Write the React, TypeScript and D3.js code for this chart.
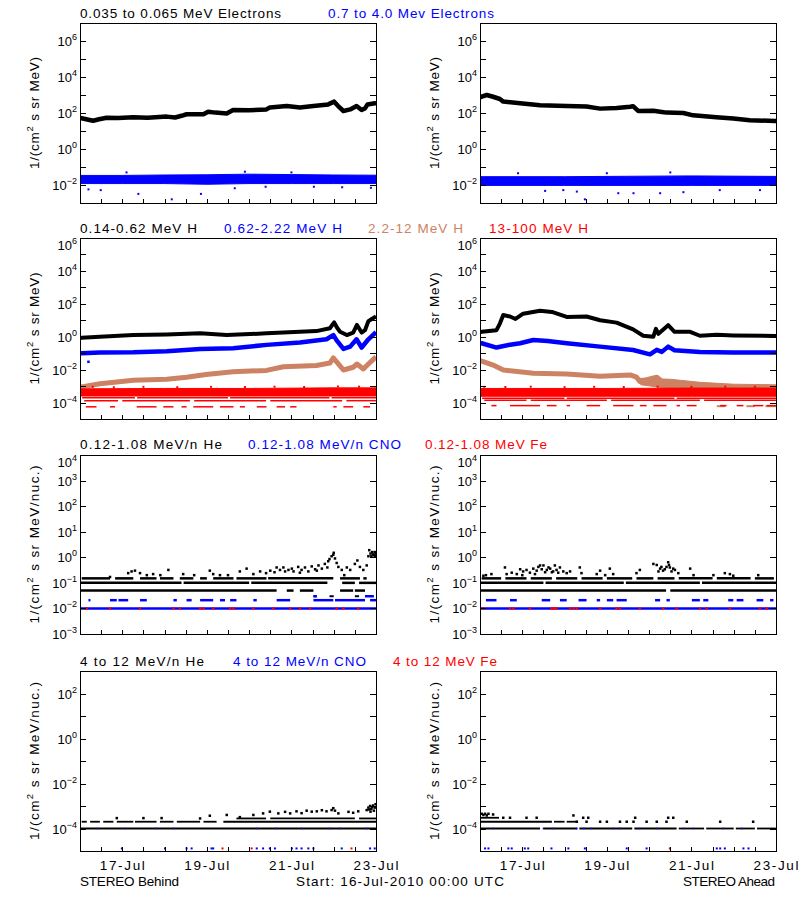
import React from 'react';
import * as d3 from 'd3';

type Pt = [number, number];
type BandPt = [number, number, number];
type Row = [number, [number, number][]];

// ---------- axes ----------
const DAY_EXTENT: [number, number] = [0, 7];
const DATE_TICK_DAYS = [1, 3, 5, 7];
const DATE_TICK_LABELS = ['17-Jul', '19-Jul', '21-Jul', '23-Jul'];
const HALF_DAY_TICKS = [0.5, 1, 1.5, 2, 2.5, 3, 3.5, 4, 4.5, 5, 5.5, 6, 6.5, 7];
const ROW_DOMAINS: [number, number][] = [[1e-3, 1e7], [1e-5, 1e6], [1e-3, 1e4], [1e-5, 1e3]];
const ROW_LABEL_EXPS = [[-2, 0, 2, 4, 6], [-4, -2, 0, 2, 4, 6], [-3, -2, -1, 0, 1, 2, 3, 4], [-4, -2, 0, 2]];
const ROW_TITLES = [
  ['0.035 to 0.065 MeV Electrons', '0.7 to 4.0 Mev Electrons'],
  ['0.14-0.62 MeV H', '0.62-2.22 MeV H', '2.2-12 MeV H', '13-100 MeV H'],
  ['0.12-1.08 MeV/n He', '0.12-1.08 MeV/n CNO', '0.12-1.08 MeV Fe'],
  ['4 to 12 MeV/n He', '4 to 12 MeV/n CNO', '4 to 12 MeV Fe'],
];
const Y_UNITS = ['MeV)', 'MeV)', 'MeV/nuc.)', 'MeV/nuc.)'];
const FOOTER_LEFT = 'STEREO Behind';
const FOOTER_MID = 'Start: 16-Jul-2010 00:00 UTC';
const FOOTER_RIGHT = 'STEREO Ahead';

// ---------- row 1: electrons ----------
const eLowBehind: Pt[] = [[0, 55], [0.04, 51], [0.2, 42], [0.31, 37], [0.45, 45], [0.63, 55], [0.9, 52], [1.26, 58], [1.6, 55], [2.05, 63], [2.25, 56], [2.4, 70], [2.52, 85], [2.92, 85], [3.03, 117], [3.2, 105], [3.47, 95], [3.62, 148], [4.0, 140], [4.41, 158], [4.49, 204], [4.89, 245], [5.2, 204], [5.52, 245], [5.87, 300], [6.01, 427], [6.1, 250], [6.23, 129], [6.39, 158], [6.54, 245], [6.66, 148], [6.74, 180], [6.8, 300], [6.97, 347], [7, 350]];
const eHighBehindBand: BandPt[] = [[0, 0.012, 0.034], [1, 0.012, 0.034], [2, 0.012, 0.036], [3, 0.011, 0.037], [4, 0.012, 0.04], [5, 0.012, 0.038], [6, 0.012, 0.036], [7, 0.012, 0.035]];
const eHighBehindOut: Pt[] = [[0.2, 0.0057], [0.49, 0.0052], [1.38, 0.0032], [2.17, 0.0016], [2.86, 0.0032], [3.66, 0.0066], [4.39, 0.008], [5.53, 0.008], [6.2, 0.0075], [6.88, 0.007], [1.1, 0.05], [3.9, 0.055], [5.0, 0.05]];
const eLowAhead: Pt[] = [[0, 750], [0.04, 800], [0.16, 1000], [0.31, 800], [0.47, 600], [0.55, 430], [0.95, 350], [1.42, 270], [2.05, 245], [2.52, 230], [2.84, 175], [3.23, 190], [3.55, 225], [3.62, 240], [3.74, 130], [4.1, 135], [4.3, 115], [4.41, 105], [4.81, 100], [5.04, 74], [5.59, 58], [5.99, 50], [6.38, 40], [6.97, 36], [7, 36]];
const eHighAheadBand: BandPt[] = [[0, 0.0095, 0.029], [2, 0.0095, 0.029], [4, 0.0095, 0.031], [5, 0.0095, 0.032], [7, 0.0095, 0.03]];
const eHighAheadOut: Pt[] = [[1.54, 0.0047], [1.97, 0.0052], [2.29, 0.0043], [2.48, 0.0016], [3.27, 0.0035], [3.63, 0.0035], [4.26, 0.0035], [4.81, 0.004], [5.67, 0.0052], [6.62, 0.0052], [0.9, 0.045], [3.0, 0.045], [4.5, 0.05]];

// ---------- row 2: protons ----------
const hLowBehind: Pt[] = [[0, 0.85], [0.04, 0.87], [0.47, 1.0], [1.26, 1.26], [2.05, 1.35], [2.84, 1.6], [3.47, 1.26], [4.41, 1.6], [4.81, 1.8], [5.59, 2.2], [5.91, 3.3], [6.01, 7.4], [6.08, 3.5], [6.15, 2.0], [6.31, 1.26], [6.46, 1.8], [6.55, 5.2], [6.66, 1.8], [6.74, 2.5], [6.82, 8.9], [6.9, 12], [7, 17]];
const hMidBehind: Pt[] = [[0, 0.098], [0.04, 0.098], [0.47, 0.11], [1.26, 0.112], [2.05, 0.13], [2.84, 0.18], [3.62, 0.2], [4.41, 0.32], [5.2, 0.45], [5.83, 0.7], [5.99, 1.26], [6.07, 0.6], [6.23, 0.18], [6.39, 0.25], [6.54, 0.7], [6.66, 0.22], [6.82, 0.7], [7, 1.9]];
const hMidBehindOut: Pt[] = [[0.2, 0.03]];
const hHighBehind: Pt[] = [[0, 0.0009], [0.04, 0.0009], [0.47, 0.0014], [0.87, 0.0018], [1.26, 0.0023], [2.05, 0.0026], [2.52, 0.0034], [2.98, 0.005], [3.62, 0.0074], [4.41, 0.009], [4.81, 0.015], [5.59, 0.018], [5.91, 0.025], [5.99, 0.052], [6.07, 0.03], [6.23, 0.0095], [6.46, 0.014], [6.55, 0.022], [6.7, 0.011], [6.82, 0.022], [7, 0.06]];
const hTopBehindBand: BandPt[] = [[0, 0.00025, 0.00068], [2, 0.00025, 0.00072], [4, 0.00025, 0.00072], [6, 0.00025, 0.00078], [7, 0.00025, 0.00078]];
const hTopBehindRows: Row[] = [
  [0.000195, [[0.05, 1.3], [1.35, 3.5], [3.55, 5.9], [5.95, 7]]],
  [0.00013, [[0.1, 0.9], [1.0, 2.6], [2.7, 4.4], [4.5, 6.2], [6.3, 7]]],
  [0.000055, [[0.14, 0.39], [0.71, 0.83], [1.34, 1.81], [1.97, 2.21], [2.4, 2.52], [2.68, 3.15], [3.31, 3.63], [3.78, 3.9], [4.18, 4.41], [4.65, 4.85], [4.97, 5.12], [5.99, 6.07], [6.23, 6.46], [6.7, 6.86]]],
];
const hTopBehindPts: Pt[] = [[0.3, 0.0009], [0.8, 0.00085], [1.5, 0.0009], [2.3, 0.00085], [3.1, 0.0009], [3.9, 0.00088], [4.6, 0.00092], [5.3, 0.00088], [6.1, 0.00095], [6.6, 0.00092]];
const hLowAhead: Pt[] = [[0, 1.8], [0.04, 2.0], [0.39, 2.5], [0.47, 6.3], [0.55, 21], [0.71, 17], [0.84, 12], [1.02, 25], [1.42, 38], [1.7, 32], [2.05, 16], [2.52, 17], [2.84, 10], [3.23, 7.2], [3.62, 2.8], [3.86, 1.15], [4.1, 1.0], [4.16, 3], [4.22, 1.5], [4.45, 5], [4.6, 2], [4.97, 2], [5.2, 1.15], [5.6, 1.3], [5.99, 1.2], [7, 1.1]];
const hMidAhead: Pt[] = [[0, 0.4], [0.04, 0.4], [0.39, 0.22], [0.71, 0.33], [0.95, 0.4], [1.26, 0.63], [1.6, 0.55], [2.05, 0.4], [2.84, 0.25], [3.62, 0.155], [4.02, 0.085], [4.18, 0.16], [4.3, 0.12], [4.45, 0.25], [4.6, 0.15], [5.2, 0.117], [5.99, 0.11], [7, 0.11]];
const hHighAhead: Pt[] = [[0, 0.033], [0.04, 0.033], [0.31, 0.019], [0.55, 0.0095], [1.26, 0.006], [2.05, 0.0055], [2.84, 0.004], [3.55, 0.0048], [3.7, 0.0035], [3.78, 0.0019], [4.18, 0.0035], [4.3, 0.0019], [5.2, 0.0011], [5.99, 0.0007], [7, 0.0006]];
const hHighAheadBand: BandPt[] = [[3.8, 0.0012, 0.003], [4.5, 0.0007, 0.0026], [5.2, 0.0005, 0.0017], [6, 0.0004, 0.0013], [7, 0.0003, 0.0012]];
const hHighAheadRows: Row[] = [[0.00006, [[5.6, 5.8], [6.3, 6.5], [6.75, 7]]]];
const hTopAheadBand: BandPt[] = [[0, 0.00024, 0.00072], [3, 0.00024, 0.00072], [5, 0.00024, 0.00076], [7, 0.00024, 0.00076]];
const hTopAheadRows: Row[] = [
  [0.00018, [[0.05, 2.0], [2.05, 4.6], [4.65, 7]]],
  [0.00014, [[0.1, 1.1], [1.2, 3.0], [3.1, 5.2], [5.3, 7]]],
  [0.000065, [[0.27, 0.39], [0.71, 1.42], [1.58, 1.81], [2.05, 2.13], [2.52, 2.84], [3.15, 3.63], [3.78, 3.94], [4.1, 4.41], [4.65, 4.73], [4.89, 5.12], [5.68, 5.83], [6.07, 6.23], [6.46, 6.7], [6.78, 7]]],
];
const hTopAheadPts: Pt[] = [[0.1, 0.0009], [0.6, 0.00088], [1.2, 0.00092], [2.0, 0.00086], [2.7, 0.0009], [3.4, 0.00088], [4.2, 0.00092], [5.0, 0.0009], [5.8, 0.00092], [6.5, 0.0009]];

// ---------- row 3: 0.12-1.08 MeV/n ions ----------
const heLowBehindRows: Row[] = [
  [0.15, [[0.04, 0.71], [0.83, 1.26], [1.42, 1.81], [1.89, 2.21], [2.36, 2.68], [2.84, 3.0], [3.15, 3.63], [3.7, 4.41], [4.45, 5.99], [6.15, 6.62], [6.7, 6.78]]],
  [0.1, [[0, 2.4], [2.45, 4.0], [4.05, 5.85], [6.2, 6.5], [6.6, 7]]],
  [0.05, [[0, 4.65], [4.89, 5.05], [5.2, 5.52], [6.15, 6.46], [6.5, 6.74]]],
];
const heLowBehindPts: Pt[] = [[0.71, 0.17], [1.14, 0.24], [1.22, 0.28], [1.3, 0.3], [1.42, 0.24], [1.58, 0.2], [1.73, 0.22], [2.09, 0.32], [2.44, 0.22], [3.07, 0.3], [3.15, 0.22], [3.31, 0.2], [3.78, 0.28], [3.94, 0.36], [4.1, 0.22], [4.26, 0.28], [4.4, 0.24], [4.5, 0.3], [4.65, 0.4], [4.73, 0.32], [4.81, 0.4], [4.85, 0.28], [4.93, 0.32], [5.01, 0.36], [5.05, 0.28], [5.16, 0.42], [5.24, 0.32], [5.32, 0.4], [5.4, 0.28], [5.48, 0.44], [5.56, 0.34], [5.64, 0.48], [5.72, 0.36], [5.79, 0.55], [5.87, 0.7], [5.95, 1.1], [5.99, 1.25], [6.03, 0.9], [6.07, 0.6], [6.11, 0.42], [6.19, 0.32], [6.31, 0.4], [6.39, 0.32], [6.5, 0.55], [6.56, 0.75], [6.62, 0.42], [6.7, 0.32], [6.78, 0.48], [6.82, 1.1], [6.84, 1.9], [6.87, 1.4], [6.89, 1.1], [6.91, 1.6], [6.93, 1.3], [6.95, 1.2], [6.97, 1.6], [6.98, 1.15], [6.99, 1.4], [5.9, 0.85], [6.0, 1.5], [5.6, 0.3], [5.2, 0.25], [4.6, 0.26], [5.85, 0.4], [6.25, 0.2], [3.5, 0.2], [2.7, 0.2], [1.9, 0.2]];
const heLowBehindLow: Row[] = [[0.03, [[5.52, 5.6], [5.9, 6.0], [6.5, 6.6]]]];
const cnoLowBehindRows: Row[] = [
  [0.021, [[0.2, 0.22], [0.71, 0.87], [0.91, 1.14], [1.42, 1.58], [2.21, 2.29], [2.52, 2.64], [2.84, 3.15], [3.31, 3.43], [3.55, 3.7], [4.1, 4.18], [4.65, 4.97], [5.52, 5.99], [6.03, 6.74], [6.86, 7]]],
  [0.03, [[5.52, 5.6], [6.74, 6.95]]],
  [0.01, [[0, 7]]],
];
const feLowBehindDays = [0.16, 0.71, 1.42, 2.21, 2.36, 2.84, 2.92, 3.15, 3.55, 3.63, 4.1, 4.57, 4.97, 5.2, 5.44, 6.07, 6.23, 6.58];
const heLowAheadRows: Row[] = [
  [0.15, [[0.04, 0.5], [0.6, 1.1], [1.2, 1.7], [1.8, 2.3], [2.4, 2.9], [3.0, 3.6], [3.7, 4.1], [4.2, 4.6], [4.7, 5.5], [5.6, 6.4], [6.5, 6.95]]],
  [0.1, [[0, 1.5], [1.55, 3.4], [3.45, 5.2], [5.25, 7]]],
  [0.05, [[0, 4.4], [4.5, 7]]],
];
const heLowAheadPts: Pt[] = [[0.08, 0.19], [0.14, 0.2], [0.27, 0.22], [0.59, 0.4], [0.63, 0.22], [0.75, 0.25], [0.87, 0.22], [0.95, 0.34], [1.02, 0.28], [1.1, 0.32], [1.18, 0.25], [1.26, 0.36], [1.34, 0.3], [1.38, 0.42], [1.42, 0.48], [1.46, 0.34], [1.5, 0.48], [1.54, 0.26], [1.58, 0.32], [1.62, 0.4], [1.66, 0.36], [1.7, 0.26], [1.73, 0.28], [1.77, 0.48], [1.81, 0.32], [1.85, 0.25], [1.89, 0.4], [1.97, 0.28], [2.05, 0.24], [2.13, 0.28], [2.36, 0.4], [2.4, 0.24], [2.76, 0.22], [2.84, 0.3], [2.96, 0.2], [3.07, 0.36], [3.15, 0.22], [3.7, 0.24], [3.78, 0.32], [4.1, 0.55], [4.18, 0.5], [4.22, 0.28], [4.26, 0.36], [4.29, 0.42], [4.33, 0.3], [4.37, 0.34], [4.41, 0.42], [4.45, 0.64], [4.47, 0.5], [4.49, 0.4], [4.53, 0.28], [4.57, 0.36], [4.61, 0.32], [4.69, 0.24], [4.97, 0.36], [5.05, 0.2], [5.52, 0.2], [5.79, 0.24], [5.91, 0.22], [5.99, 0.19], [6.58, 0.2], [1.3, 0.22], [1.0, 0.2]];
const cnoLowAheadRows: Row[] = [
  [0.021, [[0.14, 0.39], [0.71, 0.87], [1.46, 1.66], [1.89, 2.05], [2.33, 2.52], [2.76, 2.84], [3.0, 3.15], [3.23, 3.47], [4.14, 4.26], [4.41, 4.49], [5.01, 5.2], [5.28, 5.4], [5.87, 5.99], [6.07, 6.23], [6.54, 6.7], [6.86, 6.94]]],
  [0.01, [[0, 7]]],
];
const feLowAheadDays = [0.08, 0.71, 0.79, 1.18, 1.69, 1.75, 1.81, 2.13, 2.21, 2.29, 2.84, 3.23, 3.31, 3.78, 4.33, 4.65, 5.2, 5.36, 5.91, 6.62, 6.78];

// ---------- row 4: 4-12 MeV/n ions ----------
const he4BehindRows: Row[] = [
  [0.0001, [[0, 7]]],
  [0.0002, [[0.04, 0.16], [0.24, 0.47], [0.55, 0.79], [0.87, 1.26], [1.3, 1.81], [1.89, 2.21], [2.29, 2.84], [2.92, 3.23], [3.39, 7]]],
  [0.00028, [[3.7, 4.4], [4.5, 6.5], [6.6, 7]]],
];
const he4BehindPts: Pt[] = [[0.87, 0.00029], [1.5, 0.00029], [1.93, 0.00029], [2.84, 0.00028], [3.07, 0.00037], [3.47, 0.0004], [3.78, 0.00032], [4.1, 0.0004], [4.33, 0.00047], [4.49, 0.00056], [4.69, 0.00047], [4.85, 0.00055], [4.97, 0.00047], [5.12, 0.00058], [5.24, 0.00048], [5.36, 0.00062], [5.48, 0.00056], [5.6, 0.00058], [5.72, 0.00065], [5.83, 0.00058], [5.95, 0.00066], [5.99, 0.0008], [6.03, 0.00062], [6.11, 0.00047], [6.35, 0.00055], [6.46, 0.0005], [6.58, 0.00058], [6.78, 0.00066], [6.82, 0.00085], [6.86, 0.001], [6.89, 0.00075], [6.93, 0.00105], [6.97, 0.00085], [6.99, 0.0012], [6.87, 0.00056], [6.95, 0.00062], [6.91, 0.0009], [6.84, 0.0007]];
const cno4BehindDays = [0.99, 2.01, 2.52, 2.64, 3.11, 3.15, 4.18, 4.33, 4.49, 4.61, 5.01, 5.12, 5.24, 5.4, 5.52, 6.19, 6.86, 6.97];
const cno4BehindOnLine = [0.39, 1.06, 1.81, 2.21, 4.18, 4.65, 5.24, 5.91, 6.15, 6.78];
const fe4BehindDays = [3.37, 4.06, 6.42];
const he4AheadRows: Row[] = [
  [0.0001, [[0, 1.42], [1.5, 2.3], [2.35, 3.6], [3.65, 4.65], [4.7, 5.3], [5.35, 6.0], [6.05, 6.5], [6.55, 7]]],
  [0.0002, [[0, 1.7], [1.75, 2.0], [2.05, 2.3]]],
  [0.0003, [[0, 0.45]]],
];
const he4AheadPts: Pt[] = [[2.29, 0.0002], [2.52, 0.0002], [2.84, 0.0002], [3.0, 0.0002], [3.31, 0.0002], [3.47, 0.0002], [3.63, 0.0002], [3.94, 0.0002], [4.18, 0.0002], [4.41, 0.0002], [4.89, 0.0002], [5.68, 0.0002], [6.46, 0.0002], [0.55, 0.0003], [0.71, 0.0003], [1.1, 0.0003], [1.34, 0.0003], [2.44, 0.0003], [2.56, 0.0003], [3.67, 0.0003], [4.45, 0.0003], [4.57, 0.0003], [0.04, 0.00045], [0.12, 0.00045], [0.2, 0.00045], [0.31, 0.00042], [0.08, 0.0004], [0.16, 0.00038], [2.21, 0.00038]];
const cno4AheadDays = [0.12, 0.2, 0.67, 0.75, 1.06, 1.14, 1.69, 2.09, 2.48, 3.47, 3.94, 5.6, 5.68, 5.79, 6.23, 6.35];
const cno4AheadOnLine = [0.31, 1.5, 1.73, 2.29, 2.45, 2.64, 3.15, 3.31, 3.78, 4.18, 4.81, 5.04, 5.75, 6.19];
const fe4AheadDays = [4.49];
const FLOOR4 = 0.000013;

// ---------- styles & layout ----------
const BLACK = '#000000';
const BLUE = '#0000ff';
const RED = '#ff0000';
const BROWN = '#cd8264';
const TITLE_COLORS = [BLACK, BLUE, BROWN, RED];
const TITLE_COLORS_ION = [BLACK, BLUE, RED];
const TITLE_X = [[80, 328], [80, 224, 368, 489], [80, 248, 425], [80, 233, 393]];
const TITLE_W = [[201, 166], [117, 118, 95, 99], [142, 153, 122], [124, 133, 104]];
const TITLE_Y = [18, 233, 449, 666];
const COL_X: [number, number][] = [[80, 376], [480, 776]];
const ROW_Y: [number, number][] = [[23, 203], [238, 419], [455, 634], [671, 851]];
const YLABEL_W = [112, 112, 158, 158];
const FONT = "'Liberation Sans', Arial, sans-serif";
const FS = 13.5;

interface LineSpec { d: Pt[]; c: string; w: number }
interface BandSpec { d: BandPt[]; c: string }
interface RowSpec { d: Row[]; c: string; w: number }
interface PtSpec { d: Pt[]; c: string; s: number }
interface PanelSpec { lines?: LineSpec[]; bands?: BandSpec[]; rows?: RowSpec[]; pts?: PtSpec[] }

const onLevel = (days: number[], v: number): Pt[] => days.map((dd) => [dd, v] as Pt);

const PANELS: PanelSpec[][] = [
  [
    { lines: [{ d: eLowBehind, c: BLACK, w: 4.5 }], bands: [{ d: eHighBehindBand, c: BLUE }], pts: [{ d: eHighBehindOut, c: BLUE, s: 2 }] },
    { lines: [{ d: eLowAhead, c: BLACK, w: 4.5 }], bands: [{ d: eHighAheadBand, c: BLUE }], pts: [{ d: eHighAheadOut, c: BLUE, s: 2 }] },
  ],
  [
    {
      lines: [{ d: hLowBehind, c: BLACK, w: 4 }, { d: hMidBehind, c: BLUE, w: 4.5 }, { d: hHighBehind, c: BROWN, w: 5 }],
      bands: [{ d: hTopBehindBand, c: RED }],
      rows: [{ d: hTopBehindRows, c: RED, w: 1.5 }],
      pts: [{ d: hMidBehindOut, c: BLUE, s: 2.5 }, { d: hTopBehindPts, c: RED, s: 2 }],
    },
    {
      lines: [{ d: hLowAhead, c: BLACK, w: 4 }, { d: hMidAhead, c: BLUE, w: 4.5 }, { d: hHighAhead, c: BROWN, w: 5 }],
      bands: [{ d: hHighAheadBand, c: BROWN }, { d: hTopAheadBand, c: RED }],
      rows: [{ d: hHighAheadRows, c: BROWN, w: 2 }, { d: hTopAheadRows, c: RED, w: 1.5 }],
      pts: [{ d: hTopAheadPts, c: RED, s: 2 }],
    },
  ],
  [
    {
      rows: [{ d: heLowBehindRows, c: BLACK, w: 2.5 }, { d: heLowBehindLow, c: BLACK, w: 2 }, { d: cnoLowBehindRows, c: BLUE, w: 2.5 }],
      pts: [{ d: heLowBehindPts, c: BLACK, s: 2.5 }, { d: onLevel(feLowBehindDays, 0.01), c: RED, s: 2.5 }],
    },
    {
      rows: [{ d: heLowAheadRows, c: BLACK, w: 2.5 }, { d: cnoLowAheadRows, c: BLUE, w: 2.5 }],
      pts: [{ d: heLowAheadPts, c: BLACK, s: 2.5 }, { d: onLevel(feLowAheadDays, 0.01), c: RED, s: 2.5 }],
    },
  ],
  [
    {
      rows: [{ d: he4BehindRows, c: BLACK, w: 1.8 }],
      pts: [{ d: he4BehindPts, c: BLACK, s: 2.5 }, { d: onLevel(cno4BehindOnLine, 0.0001), c: BLUE, s: 1.5 }, { d: onLevel(cno4BehindDays, FLOOR4), c: BLUE, s: 2 }, { d: onLevel(fe4BehindDays, FLOOR4), c: RED, s: 2 }],
    },
    {
      rows: [{ d: he4AheadRows, c: BLACK, w: 1.8 }],
      pts: [{ d: he4AheadPts, c: BLACK, s: 2.5 }, { d: onLevel(cno4AheadOnLine, 0.0001), c: BLUE, s: 1.5 }, { d: onLevel(cno4AheadDays, FLOOR4), c: BLUE, s: 2 }, { d: onLevel(fe4AheadDays, FLOOR4), c: RED, s: 2 }],
    },
  ],
];

function Panel({ row, col }: { row: number; col: number }) {
  const [x0, x1] = COL_X[col];
  const [top, bottom] = ROW_Y[row];
  const spec = PANELS[row][col];
  const x = d3.scaleLinear().domain(DAY_EXTENT).range([x0, x1]);
  const y = d3.scaleLog().domain(ROW_DOMAINS[row]).range([bottom, top]);
  const line = d3.line<Pt>().x((p) => x(p[0])).y((p) => y(p[1]));
  const area = d3.area<BandPt>().x((p) => x(p[0])).y0((p) => y(p[1])).y1((p) => y(p[2]));
  const clipId = `clip-${row}-${col}`;
  const [eMin, eMax] = ROW_DOMAINS[row].map((v) => Math.round(Math.log10(v)));
  const decades = d3.range(eMin, eMax + 1);
  const cy = (top + bottom) / 2;
  const ylx = x0 - 41;
  const isLast = row === ROW_Y.length - 1;
  return (
    <g>
      <defs>
        <clipPath id={clipId}>
          <rect x={x0} y={top} width={x1 - x0} height={bottom - top} />
        </clipPath>
      </defs>
      <g clipPath={`url(#${clipId})`}>
        {(spec.lines || []).map((l, i) => (
          <path key={'l' + i} d={line(l.d) || ''} fill="none" stroke={l.c} strokeWidth={l.w} strokeLinejoin="round" />
        ))}
        {(spec.bands || []).map((b, i) => (
          <path key={'b' + i} d={area(b.d) || ''} fill={b.c} stroke={b.c} strokeWidth={1} />
        ))}
        {(spec.rows || []).map((r, i) =>
          r.d.map(([v, segs], j) =>
            segs.map(([s0, s1], k) => (
              <line key={`r${i}-${j}-${k}`} x1={x(s0)} x2={Math.max(x(s1), x(s0) + 2)} y1={y(v)} y2={y(v)} stroke={r.c} strokeWidth={r.w} />
            ))
          )
        )}
        {(spec.pts || []).map((p, i) =>
          p.d.map(([dd, v], j) => (
            <rect key={`p${i}-${j}`} x={x(dd) - p.s / 2} y={y(v) - p.s / 2} width={p.s} height={p.s} fill={p.c} />
          ))
        )}
      </g>
      <rect x={x0 + 0.5} y={top + 0.5} width={x1 - x0} height={bottom - top} fill="none" stroke="#000" strokeWidth={1} shapeRendering="crispEdges" />
      {decades.map((e) => {
        const ty = Math.round(y(Math.pow(10, e))) + 0.5;
        return (
          <g key={'yt' + e} shapeRendering="crispEdges">
            <line x1={x0} x2={x0 + 6} y1={ty} y2={ty} stroke="#000" />
            <line x1={x1 - 6} x2={x1} y1={ty} y2={ty} stroke="#000" />
          </g>
        );
      })}
      {ROW_LABEL_EXPS[row].map((e) => {
        const ty = y(Math.pow(10, e));
        const base = Math.max(ty + 5, top + 12);
        return (
          <text key={'yl' + e} x={x0 - 3} y={base} textAnchor="end" fontFamily={FONT} fontSize={13} fill="#000">
            10<tspan fontSize={9} dy={-6}>{e < 0 ? '\u2212' + Math.abs(e) : String(e)}</tspan>
          </text>
        );
      })}
      {HALF_DAY_TICKS.map((dd) => (
        <line key={'xt' + dd} x1={Math.round(x(dd)) + 0.5} x2={Math.round(x(dd)) + 0.5} y1={bottom} y2={bottom - 4} stroke="#000" shapeRendering="crispEdges" />
      ))}
      {isLast &&
        DATE_TICK_DAYS.map((dd, i) => (
          <text key={'xl' + dd} x={x(dd)} y={870} textAnchor="middle" fontFamily={FONT} fontSize={FS} textLength={45} fill="#000">
            {DATE_TICK_LABELS[i]}
          </text>
        ))}
      <text transform={`translate(${ylx},${cy}) rotate(-90)`} textAnchor="middle" fontFamily={FONT} fontSize={FS} textLength={YLABEL_W[row]} fill="#000">
        1/(cm<tspan fontSize={9.5} dy={-6}>2</tspan>
        <tspan dy={6}>{' s sr ' + Y_UNITS[row]}</tspan>
      </text>
    </g>
  );
}

export default function App() {
  return (
    <svg width={800} height={900} viewBox="0 0 800 900" style={{ position: 'absolute', left: 0, top: 0, background: '#fff' }}>
      <rect x={0} y={0} width={800} height={900} fill="#fff" />
      {ROW_TITLES.map((titles, r) =>
        titles.map((t, i) => (
          <text key={`t${r}-${i}`} x={TITLE_X[r][i]} y={TITLE_Y[r]} fontFamily={FONT} fontSize={FS} textLength={TITLE_W[r][i]} fill={(r === 1 ? TITLE_COLORS : TITLE_COLORS_ION)[i]}>
            {t}
          </text>
        ))
      )}
      {ROW_Y.map((_, r) => COL_X.map((__, c) => <Panel key={`${r}-${c}`} row={r} col={c} />))}
      <text x={80} y={886} fontFamily={FONT} fontSize={FS} textLength={99} fill="#000">{FOOTER_LEFT}</text>
      <text x={296} y={886} fontFamily={FONT} fontSize={FS} textLength={208} fill="#000">{FOOTER_MID}</text>
      <text x={683} y={886} fontFamily={FONT} fontSize={FS} textLength={92} fill="#000">{FOOTER_RIGHT}</text>
    </svg>
  );
}
